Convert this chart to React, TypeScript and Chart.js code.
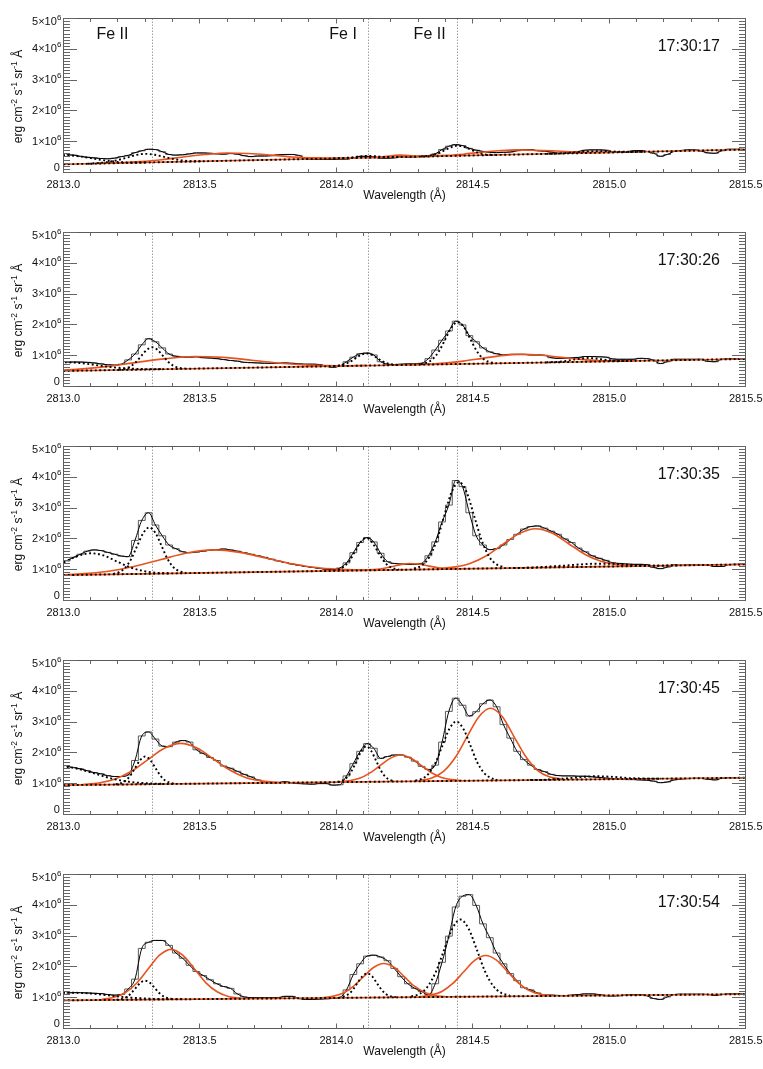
import React, { useEffect, useRef } from 'react';
import { Chart, registerables } from 'chart.js';

Chart.register(...registerables);

type Pt = [number, number];

// ---------- axes / labels ----------
const X_MIN = 2813.0;
const X_MAX = 2815.5;
const Y_MIN = 0;
const Y_MAX = 5; // units of 10^6 erg cm^-2 s^-1 sr^-1 A^-1
const X_TICK_VALUES = [2813.0, 2813.5, 2814.0, 2814.5, 2815.0, 2815.5];
const X_TICK_LABELS = ['2813.0', '2813.5', '2814.0', '2814.5', '2815.0', '2815.5'];
const Y_TICK_VALUES = [0, 1, 2, 3, 4, 5];
const Y_TICK_LABELS = ['0', '1×10', '2×10', '3×10', '4×10', '5×10'];
const Y_TICK_EXP = ['', '6', '6', '6', '6', '6'];
const X_TITLE = 'Wavelength (Å)';
const Y_TITLE_PARTS = ['erg cm', '-2', ' s', '-1', ' sr', '-1', ' Å'];
const TIMES = ['17:30:17', '17:30:26', '17:30:35', '17:30:45', '17:30:54'];
const LINE_WAVES = [2813.325, 2814.117, 2814.445];
const LINE_NAMES = ['Fe II', 'Fe I', 'Fe II'];
const LINE_NAME_X = [2813.18, 2814.025, 2814.342];

// ---------- observed spectra (bin centres) ----------
const WAVE = [
  2813.0125, 2813.0375, 2813.0625, 2813.0875, 2813.1125, 2813.1375, 2813.1625, 2813.1875, 2813.2125, 2813.2375,
  2813.2625, 2813.2875, 2813.3125, 2813.3375, 2813.3625, 2813.3875, 2813.4125, 2813.4375, 2813.4625, 2813.4875,
  2813.5125, 2813.5375, 2813.5625, 2813.5875, 2813.6125, 2813.6375, 2813.6625, 2813.6875, 2813.7125, 2813.7375,
  2813.7625, 2813.7875, 2813.8125, 2813.8375, 2813.8625, 2813.8875, 2813.9125, 2813.9375, 2813.9625, 2813.9875,
  2814.0125, 2814.0375, 2814.0625, 2814.0875, 2814.1125, 2814.1375, 2814.1625, 2814.1875, 2814.2125, 2814.2375,
  2814.2625, 2814.2875, 2814.3125, 2814.3375, 2814.3625, 2814.3875, 2814.4125, 2814.4375, 2814.4625, 2814.4875,
  2814.5125, 2814.5375, 2814.5625, 2814.5875, 2814.6125, 2814.6375, 2814.6625, 2814.6875, 2814.7125, 2814.7375,
  2814.7625, 2814.7875, 2814.8125, 2814.8375, 2814.8625, 2814.8875, 2814.9125, 2814.9375, 2814.9625, 2814.9875,
  2815.0125, 2815.0375, 2815.0625, 2815.0875, 2815.1125, 2815.1375, 2815.1625, 2815.1875, 2815.2125, 2815.2375,
  2815.2625, 2815.2875, 2815.3125, 2815.3375, 2815.3625, 2815.3875, 2815.4125, 2815.4375, 2815.4625, 2815.4875,
];

const HIST_1 = [
  0.57, 0.56, 0.52, 0.49, 0.47, 0.45, 0.44, 0.46, 0.51, 0.55,
  0.64, 0.70, 0.75, 0.74, 0.67, 0.58, 0.56, 0.57, 0.60, 0.63,
  0.63, 0.62, 0.60, 0.59, 0.61, 0.59, 0.54, 0.51, 0.53, 0.53,
  0.54, 0.57, 0.58, 0.58, 0.55, 0.44, 0.42, 0.42, 0.42, 0.42,
  0.43, 0.43, 0.47, 0.52, 0.52, 0.50, 0.46, 0.46, 0.47, 0.51,
  0.49, 0.50, 0.52, 0.54, 0.60, 0.74, 0.85, 0.90, 0.87, 0.78,
  0.72, 0.68, 0.65, 0.64, 0.65, 0.66, 0.70, 0.74, 0.74, 0.70,
  0.69, 0.66, 0.62, 0.62, 0.65, 0.68, 0.72, 0.73, 0.73, 0.72,
  0.65, 0.65, 0.65, 0.70, 0.71, 0.68, 0.62, 0.52, 0.58, 0.68,
  0.71, 0.73, 0.73, 0.69, 0.63, 0.62, 0.70, 0.75, 0.75, 0.75,
];
const HIST_2 = [
  0.79, 0.79, 0.79, 0.78, 0.76, 0.73, 0.70, 0.69, 0.72, 0.86,
  1.05, 1.35, 1.55, 1.45, 1.25, 1.05, 0.98, 0.95, 0.95, 0.96,
  0.93, 0.92, 0.90, 0.87, 0.84, 0.82, 0.78, 0.77, 0.76, 0.75,
  0.75, 0.75, 0.76, 0.75, 0.73, 0.72, 0.72, 0.71, 0.65, 0.62,
  0.66, 0.80, 0.95, 1.06, 1.08, 1.02, 0.80, 0.72, 0.70, 0.72,
  0.73, 0.73, 0.75, 0.90, 1.18, 1.50, 1.80, 2.12, 2.00, 1.65,
  1.45, 1.25, 1.12, 1.06, 1.02, 1.04, 1.04, 1.04, 1.02, 1.02,
  1.01, 0.93, 0.91, 0.91, 0.93, 0.94, 0.97, 0.97, 0.96, 0.95,
  0.89, 0.88, 0.88, 0.88, 0.91, 0.90, 0.85, 0.74, 0.80, 0.88,
  0.88, 0.88, 0.88, 0.88, 0.81, 0.80, 0.88, 0.89, 0.89, 0.89,
];
const HIST_3 = [
  1.28, 1.40, 1.50, 1.60, 1.64, 1.62, 1.56, 1.50, 1.44, 1.42,
  1.95, 2.60, 2.85, 2.45, 2.10, 1.80, 1.68, 1.58, 1.55, 1.57,
  1.60, 1.63, 1.65, 1.67, 1.64, 1.60, 1.55, 1.50, 1.45, 1.40,
  1.34, 1.28, 1.23, 1.18, 1.14, 1.10, 1.07, 1.04, 1.01, 1.00,
  1.05, 1.22, 1.55, 1.88, 2.04, 1.90, 1.53, 1.26, 1.20, 1.18,
  1.17, 1.17, 1.20, 1.45, 1.90, 2.55, 3.10, 3.90, 3.70, 2.85,
  2.10, 1.80, 1.65, 1.68, 1.80, 1.98, 2.15, 2.32, 2.40, 2.42,
  2.35, 2.25, 2.15, 2.00, 1.88, 1.70, 1.58, 1.45, 1.37, 1.30,
  1.22, 1.20, 1.18, 1.17, 1.17, 1.16, 1.07, 1.03, 1.08, 1.15,
  1.14, 1.15, 1.15, 1.15, 1.14, 1.10, 1.10, 1.16, 1.17, 1.17,
];
const HIST_4 = [
  1.56, 1.52, 1.48, 1.42, 1.36, 1.32, 1.26, 1.23, 1.23, 1.28,
  1.75, 2.55, 2.68, 2.45, 2.22, 2.20, 2.35, 2.40, 2.35, 2.10,
  1.98, 1.85, 1.75, 1.57, 1.50, 1.40, 1.30, 1.22, 1.12, 1.05,
  1.02, 1.03, 1.06, 1.02, 1.00, 0.99, 0.98, 1.00, 1.00, 0.95,
  0.96, 1.25, 1.65, 2.05, 2.30, 2.15, 1.82, 1.88, 1.93, 1.93,
  1.86, 1.73, 1.56, 1.46, 1.60, 2.35, 3.35, 3.78, 3.55, 3.20,
  3.34, 3.60, 3.72, 3.50, 2.92, 2.48, 2.05, 1.78, 1.60, 1.46,
  1.39, 1.30, 1.26, 1.25, 1.25, 1.24, 1.24, 1.22, 1.20, 1.18,
  1.16, 1.14, 1.13, 1.13, 1.12, 1.11, 1.08, 1.03, 1.05, 1.12,
  1.15, 1.16, 1.17, 1.17, 1.14, 1.12, 1.17, 1.19, 1.19, 1.19,
];
const HIST_5 = [
  1.15, 1.16, 1.16, 1.15, 1.14, 1.13, 1.10, 1.08, 1.10, 1.28,
  1.60, 2.60, 2.80, 2.86, 2.86, 2.70, 2.45, 2.28, 2.05, 1.85,
  1.72, 1.58, 1.45, 1.36, 1.30, 1.12, 1.02, 1.00, 1.00, 1.00,
  1.00, 1.00, 1.04, 1.04, 0.97, 0.94, 0.94, 0.95, 0.96, 0.97,
  1.00, 1.25, 1.75, 2.10, 2.35, 2.38, 2.32, 2.20, 1.95, 1.68,
  1.45, 1.30, 1.20, 1.08, 1.45, 2.15, 3.00, 3.95, 4.30, 4.35,
  4.00, 3.40, 2.95, 2.45, 2.10, 1.78, 1.55, 1.32, 1.25, 1.15,
  1.08, 1.08, 1.07, 1.06, 1.08, 1.10, 1.12, 1.12, 1.10, 1.06,
  1.05, 1.06, 1.08, 1.10, 1.10, 1.06, 0.97, 0.94, 1.02, 1.10,
  1.11, 1.11, 1.11, 1.11, 1.10, 1.07, 1.10, 1.12, 1.12, 1.12,
];

// ---------- continua ----------
const CONT_1: Pt[] = [[2813.0, 0.26], [2815.5, 0.74]];
const CONT_2: Pt[] = [[2813.0, 0.50], [2815.5, 0.89]];
const CONT_3: Pt[] = [[2813.0, 0.82], [2815.5, 1.17]];
const CONT_4: Pt[] = [[2813.0, 0.95], [2815.5, 1.19]];
const CONT_5: Pt[] = [[2813.0, 0.91], [2815.5, 1.11]];

// ---------- panel 1 components ----------
const P1_G0: Pt[] = [[2812.90, 0.42], [2812.95, 0.52], [2813.00, 0.56], [2813.05, 0.53], [2813.10, 0.46], [2813.15, 0.39], [2813.20, 0.34], [2813.25, 0.32], [2813.30, 0.32]];
const P1_G1: Pt[] = [[2813.09, 0.28], [2813.125, 0.30], [2813.16, 0.33], [2813.195, 0.39], [2813.23, 0.47], [2813.265, 0.56], [2813.30, 0.60], [2813.335, 0.57], [2813.37, 0.50], [2813.405, 0.43], [2813.44, 0.38], [2813.475, 0.36], [2813.51, 0.36]];
const P1_O1: Pt[] = [[2813.12, 0.29], [2813.20, 0.31], [2813.28, 0.35], [2813.36, 0.41], [2813.44, 0.50], [2813.52, 0.58], [2813.60, 0.63], [2813.68, 0.61], [2813.76, 0.56], [2813.84, 0.50], [2813.92, 0.47], [2814.00, 0.46], [2814.08, 0.47]];
const P1_G2: Pt[] = [[2813.99, 0.45], [2814.01, 0.46], [2814.03, 0.47], [2814.05, 0.48], [2814.07, 0.50], [2814.09, 0.52], [2814.11, 0.53], [2814.13, 0.53], [2814.15, 0.52], [2814.17, 0.50], [2814.19, 0.50], [2814.21, 0.50], [2814.23, 0.50]];
const P1_O2: Pt[] = [[2814.115, 0.47], [2814.135, 0.48], [2814.155, 0.49], [2814.175, 0.51], [2814.195, 0.53], [2814.215, 0.55], [2814.235, 0.56], [2814.255, 0.55], [2814.275, 0.54], [2814.295, 0.53], [2814.315, 0.52], [2814.335, 0.52], [2814.355, 0.52]];
const P1_G3: Pt[] = [[2814.31, 0.52], [2814.3325, 0.53], [2814.355, 0.57], [2814.3775, 0.63], [2814.40, 0.73], [2814.4225, 0.82], [2814.445, 0.87], [2814.4675, 0.83], [2814.49, 0.75], [2814.5125, 0.66], [2814.535, 0.60], [2814.5575, 0.57], [2814.58, 0.57]];
const P1_O3: Pt[] = [[2814.27, 0.51], [2814.335, 0.52], [2814.40, 0.55], [2814.465, 0.59], [2814.53, 0.65], [2814.595, 0.70], [2814.66, 0.73], [2814.725, 0.72], [2814.79, 0.70], [2814.855, 0.67], [2814.92, 0.65], [2814.985, 0.65], [2815.05, 0.66]];
const P1_G4: Pt[] = [[2814.77, 0.60], [2814.80, 0.61], [2814.83, 0.62], [2814.86, 0.64], [2814.89, 0.66], [2814.92, 0.68], [2814.95, 0.69], [2814.98, 0.69], [2815.01, 0.68], [2815.04, 0.67], [2815.07, 0.67], [2815.10, 0.67], [2815.13, 0.67]];

// ---------- panel 2 components ----------
const P2_G0: Pt[] = [[2812.88, 0.65], [2812.94, 0.74], [2813.00, 0.78], [2813.06, 0.76], [2813.12, 0.69], [2813.18, 0.62], [2813.24, 0.58], [2813.30, 0.56], [2813.36, 0.56]];
const P2_G1: Pt[] = [[2813.205, 0.54], [2813.225, 0.57], [2813.245, 0.64], [2813.265, 0.78], [2813.285, 0.98], [2813.305, 1.18], [2813.325, 1.27], [2813.345, 1.19], [2813.365, 0.99], [2813.385, 0.79], [2813.405, 0.66], [2813.425, 0.60], [2813.445, 0.58]];
const P2_O1: Pt[] = [[2812.85, 0.48], [2812.955, 0.51], [2813.06, 0.56], [2813.165, 0.65], [2813.27, 0.78], [2813.375, 0.90], [2813.48, 0.97], [2813.585, 0.94], [2813.69, 0.85], [2813.795, 0.75], [2813.90, 0.69], [2814.005, 0.67], [2814.11, 0.68]];
const P2_G2: Pt[] = [[2813.99, 0.66], [2814.01, 0.68], [2814.03, 0.72], [2814.05, 0.79], [2814.07, 0.91], [2814.09, 1.02], [2814.11, 1.07], [2814.13, 1.03], [2814.15, 0.92], [2814.17, 0.81], [2814.19, 0.74], [2814.21, 0.71], [2814.23, 0.70]];
const P2_G3: Pt[] = [[2814.31, 0.72], [2814.3325, 0.77], [2814.355, 0.90], [2814.3775, 1.16], [2814.40, 1.54], [2814.4225, 1.92], [2814.445, 2.09], [2814.4675, 1.93], [2814.49, 1.56], [2814.5125, 1.18], [2814.535, 0.92], [2814.5575, 0.80], [2814.58, 0.76]];
const P2_O3: Pt[] = [[2814.255, 0.70], [2814.325, 0.72], [2814.395, 0.76], [2814.465, 0.82], [2814.535, 0.91], [2814.605, 1.00], [2814.675, 1.04], [2814.745, 1.02], [2814.815, 0.95], [2814.885, 0.89], [2814.955, 0.84], [2815.025, 0.83], [2815.095, 0.83]];
const P2_G4: Pt[] = [[2814.77, 0.78], [2814.795, 0.79], [2814.82, 0.80], [2814.845, 0.83], [2814.87, 0.87], [2814.895, 0.90], [2814.92, 0.92], [2814.945, 0.91], [2814.97, 0.88], [2814.995, 0.85], [2815.02, 0.83], [2815.045, 0.82], [2815.07, 0.82]];

// ---------- panel 3 components ----------
const P3_G1: Pt[] = [[2812.815, 0.80], [2812.8625, 0.83], [2812.91, 0.90], [2812.9575, 1.04], [2813.005, 1.25], [2813.0525, 1.44], [2813.10, 1.53], [2813.1475, 1.46], [2813.195, 1.27], [2813.2425, 1.08], [2813.29, 0.96], [2813.3375, 0.90], [2813.385, 0.88]];
const P3_G2: Pt[] = [[2813.183, 0.86], [2813.205, 0.92], [2813.227, 1.06], [2813.249, 1.35], [2813.271, 1.78], [2813.293, 2.19], [2813.315, 2.37], [2813.337, 2.20], [2813.359, 1.79], [2813.381, 1.36], [2813.403, 1.08], [2813.425, 0.95], [2813.447, 0.90]];
const P3_O1: Pt[] = [[2812.965, 0.82], [2813.0625, 0.86], [2813.16, 0.94], [2813.2575, 1.10], [2813.355, 1.32], [2813.4525, 1.54], [2813.55, 1.64], [2813.6475, 1.56], [2813.745, 1.37], [2813.8425, 1.18], [2813.94, 1.05], [2814.0375, 1.00], [2814.135, 0.99]];
const P3_G3: Pt[] = [[2813.99, 0.97], [2814.01, 1.01], [2814.03, 1.11], [2814.05, 1.31], [2814.07, 1.61], [2814.09, 1.90], [2814.11, 2.03], [2814.13, 1.90], [2814.15, 1.62], [2814.17, 1.33], [2814.19, 1.13], [2814.21, 1.04], [2814.23, 1.00]];
const P3_O2: Pt[] = [[2814.09, 0.98], [2814.12, 0.99], [2814.15, 1.01], [2814.18, 1.05], [2814.21, 1.11], [2814.24, 1.17], [2814.27, 1.20], [2814.30, 1.18], [2814.33, 1.13], [2814.36, 1.08], [2814.39, 1.04], [2814.42, 1.03], [2814.45, 1.03]];
const P3_G4: Pt[] = [[2814.285, 1.03], [2814.3125, 1.13], [2814.34, 1.39], [2814.3675, 1.93], [2814.395, 2.73], [2814.4225, 3.52], [2814.45, 3.85], [2814.4775, 3.52], [2814.505, 2.75], [2814.5325, 1.96], [2814.56, 1.42], [2814.5875, 1.17], [2814.615, 1.08]];
const P3_O3: Pt[] = [[2814.37, 1.03], [2814.43, 1.08], [2814.49, 1.20], [2814.55, 1.45], [2814.61, 1.82], [2814.67, 2.17], [2814.73, 2.33], [2814.79, 2.19], [2814.85, 1.85], [2814.91, 1.50], [2814.97, 1.27], [2815.03, 1.16], [2815.09, 1.13]];
const P3_G5: Pt[] = [[2814.65, 1.05], [2814.70, 1.06], [2814.75, 1.08], [2814.80, 1.11], [2814.85, 1.14], [2814.90, 1.17], [2814.95, 1.19], [2815.00, 1.19], [2815.05, 1.17], [2815.10, 1.15], [2815.15, 1.13], [2815.20, 1.13], [2815.25, 1.14]];

// ---------- panel 4 components ----------
const P4_G0: Pt[] = [[2812.85, 1.31], [2812.915, 1.49], [2812.98, 1.57], [2813.045, 1.50], [2813.11, 1.34], [2813.175, 1.17], [2813.24, 1.06], [2813.305, 1.01], [2813.37, 0.99]];
const P4_G2: Pt[] = [[2813.192, 0.98], [2813.21, 1.01], [2813.228, 1.09], [2813.246, 1.27], [2813.264, 1.52], [2813.282, 1.77], [2813.30, 1.88], [2813.318, 1.77], [2813.336, 1.53], [2813.354, 1.28], [2813.372, 1.11], [2813.39, 1.03], [2813.408, 1.00]];
const P4_O1: Pt[] = [[2813.07, 0.97], [2813.13, 1.02], [2813.19, 1.15], [2813.25, 1.40], [2813.31, 1.78], [2813.37, 2.15], [2813.43, 2.31], [2813.49, 2.16], [2813.55, 1.80], [2813.61, 1.44], [2813.67, 1.19], [2813.73, 1.08], [2813.79, 1.04]];
const P4_G3: Pt[] = [[2814.005, 1.06], [2814.0225, 1.10], [2814.04, 1.21], [2814.0575, 1.43], [2814.075, 1.75], [2814.0925, 2.07], [2814.11, 2.21], [2814.1275, 2.07], [2814.145, 1.76], [2814.1625, 1.44], [2814.18, 1.22], [2814.1975, 1.12], [2814.215, 1.08]];
const P4_O2: Pt[] = [[2814.01, 1.06], [2814.0475, 1.09], [2814.085, 1.17], [2814.1225, 1.34], [2814.16, 1.58], [2814.1975, 1.82], [2814.235, 1.93], [2814.2725, 1.83], [2814.31, 1.60], [2814.3475, 1.36], [2814.385, 1.20], [2814.4225, 1.13], [2814.46, 1.10]];
const P4_G4: Pt[] = [[2814.29, 1.10], [2814.315, 1.16], [2814.34, 1.34], [2814.365, 1.71], [2814.39, 2.26], [2814.415, 2.79], [2814.44, 3.02], [2814.465, 2.79], [2814.49, 2.27], [2814.515, 1.72], [2814.54, 1.36], [2814.565, 1.19], [2814.59, 1.12]];
const P4_O3: Pt[] = [[2814.307, 1.10], [2814.35, 1.18], [2814.393, 1.40], [2814.436, 1.85], [2814.479, 2.52], [2814.522, 3.17], [2814.565, 3.45], [2814.608, 3.18], [2814.651, 2.53], [2814.694, 1.88], [2814.737, 1.43], [2814.78, 1.22], [2814.823, 1.15]];
const P4_G5: Pt[] = [[2814.71, 1.12], [2814.75, 1.12], [2814.79, 1.14], [2814.83, 1.16], [2814.87, 1.19], [2814.91, 1.22], [2814.95, 1.24], [2814.99, 1.23], [2815.03, 1.21], [2815.07, 1.18], [2815.11, 1.17], [2815.15, 1.16], [2815.19, 1.16]];

// ---------- panel 5 components ----------
const P5_G0: Pt[] = [[2812.88, 1.05], [2812.95, 1.13], [2813.02, 1.16], [2813.09, 1.14], [2813.16, 1.08], [2813.23, 1.01], [2813.30, 0.97], [2813.37, 0.95], [2813.44, 0.95]];
const P5_G1: Pt[] = [[2813.195, 0.93], [2813.2125, 0.95], [2813.23, 1.01], [2813.2475, 1.13], [2813.265, 1.31], [2813.2825, 1.48], [2813.30, 1.55], [2813.3175, 1.48], [2813.335, 1.31], [2813.3525, 1.14], [2813.37, 1.02], [2813.3875, 0.97], [2813.405, 0.95]];
const P5_O1: Pt[] = [[2813.14, 0.94], [2813.1825, 1.00], [2813.225, 1.15], [2813.2675, 1.46], [2813.31, 1.92], [2813.3525, 2.38], [2813.395, 2.57], [2813.4375, 2.38], [2813.48, 1.94], [2813.5225, 1.48], [2813.565, 1.18], [2813.6075, 1.03], [2813.65, 0.98]];
const P5_G2: Pt[] = [[2814.008, 1.00], [2814.0255, 1.03], [2814.043, 1.10], [2814.0605, 1.25], [2814.078, 1.48], [2814.0955, 1.69], [2814.113, 1.79], [2814.1305, 1.70], [2814.148, 1.48], [2814.1655, 1.26], [2814.183, 1.11], [2814.2005, 1.04], [2814.218, 1.02]];
const P5_O2: Pt[] = [[2813.949, 1.00], [2813.9865, 1.04], [2814.024, 1.14], [2814.0615, 1.36], [2814.099, 1.67], [2814.1365, 1.98], [2814.174, 2.11], [2814.2115, 1.99], [2814.249, 1.68], [2814.2865, 1.37], [2814.324, 1.17], [2814.3615, 1.07], [2814.399, 1.03]];
const P5_G3: Pt[] = [[2814.275, 1.04], [2814.305, 1.12], [2814.335, 1.36], [2814.365, 1.84], [2814.395, 2.55], [2814.425, 3.24], [2814.455, 3.54], [2814.485, 3.24], [2814.515, 2.56], [2814.545, 1.85], [2814.575, 1.38], [2814.605, 1.15], [2814.635, 1.07]];
const P5_O3: Pt[] = [[2814.307, 1.03], [2814.347, 1.08], [2814.387, 1.20], [2814.427, 1.46], [2814.467, 1.84], [2814.507, 2.21], [2814.547, 2.37], [2814.587, 2.22], [2814.627, 1.85], [2814.667, 1.48], [2814.707, 1.23], [2814.747, 1.11], [2814.787, 1.07]];

const PANELS = [
  { hist: HIST_1, cont: CONT_1, dotted: [P1_G0, P1_G1, P1_G2, P1_G3, P1_G4], orange: [P1_O1, P1_O2, P1_O3] },
  { hist: HIST_2, cont: CONT_2, dotted: [P2_G0, P2_G1, P2_G2, P2_G3, P2_G4], orange: [P2_O1, P2_O3] },
  { hist: HIST_3, cont: CONT_3, dotted: [P3_G1, P3_G2, P3_G3, P3_G4, P3_G5], orange: [P3_O1, P3_O2, P3_O3] },
  { hist: HIST_4, cont: CONT_4, dotted: [P4_G0, P4_G2, P4_G3, P4_G4, P4_G5], orange: [P4_O1, P4_O2, P4_O3] },
  { hist: HIST_5, cont: CONT_5, dotted: [P5_G0, P5_G1, P5_G2, P5_G3], orange: [P5_O1, P5_O2, P5_O3] },
];

const FONT = '"Liberation Sans", Arial, Helvetica, sans-serif';
const ORANGE = '#e8531e';
const PANEL_H = 214;
const W = 763;

const crisp = (v: number) => Math.floor(v) + 0.5;

function makeDeco(idx: number) {
  return {
    id: 'deco' + idx,
    beforeDatasetsDraw(chart: any) {
      const { ctx, chartArea: a } = chart;
      const xs = chart.scales.x;
      ctx.save();
      ctx.strokeStyle = '#707070';
      ctx.lineWidth = 1;
      ctx.setLineDash([1, 2]);
      for (const w of LINE_WAVES) {
        const px = crisp(xs.getPixelForValue(w));
        ctx.beginPath();
        ctx.moveTo(px, a.top);
        ctx.lineTo(px, a.bottom);
        ctx.stroke();
      }
      ctx.restore();
    },
    afterDatasetsDraw(chart: any) {
      const { ctx, chartArea: a } = chart;
      const xs = chart.scales.x;
      const ys = chart.scales.y;
      ctx.save();
      // frame
      ctx.strokeStyle = '#5a5a5a';
      ctx.lineWidth = 1;
      const L = crisp(a.left), R = crisp(a.right), T = crisp(a.top), B = crisp(a.bottom);
      ctx.strokeRect(L, T, R - L, B - T);
      // x ticks (major every 0.5, minor every 0.1)
      ctx.strokeStyle = '#666';
      for (let i = 0; i <= 25; i++) {
        const px = crisp(xs.getPixelForValue(X_MIN + i * 0.1));
        const len = i % 5 === 0 ? 5 : 3.5;
        ctx.beginPath();
        ctx.moveTo(px, B); ctx.lineTo(px, B - len);
        ctx.moveTo(px, T); ctx.lineTo(px, T + len);
        ctx.stroke();
      }
      // y ticks (major every 1, minor every 0.1)
      for (let i = 0; i <= 50; i++) {
        const py = crisp(ys.getPixelForValue(i * 0.1));
        const len = i % 10 === 0 ? 13.5 : 6.5;
        ctx.beginPath();
        ctx.moveTo(L, py); ctx.lineTo(L + len, py);
        ctx.moveTo(R, py); ctx.lineTo(R - len, py);
        ctx.stroke();
      }
      ctx.fillStyle = '#111';
      ctx.textBaseline = 'middle';
      // x tick labels
      ctx.font = `11px ${FONT}`;
      ctx.textAlign = 'center';
      X_TICK_VALUES.forEach((v, i) => {
        ctx.fillText(X_TICK_LABELS[i], xs.getPixelForValue(v), a.bottom + 12.3);
      });
      // x title
      ctx.font = `12px ${FONT}`;
      ctx.fillText(X_TITLE, (a.left + a.right) / 2, a.bottom + 23.5);
      // y tick labels
      Y_TICK_VALUES.forEach((v, i) => {
        const py = ys.getPixelForValue(v);
        if (!Y_TICK_EXP[i]) {
          ctx.font = `11px ${FONT}`;
          ctx.textAlign = 'right';
          ctx.fillText(Y_TICK_LABELS[i], a.left - 3.5, py - 4);
        } else {
          const cy = v === Y_MAX ? py + 3.5 : py;
          ctx.font = `11px ${FONT}`;
          ctx.textAlign = 'right';
          ctx.fillText(Y_TICK_LABELS[i], a.left - 6.5, cy);
          ctx.font = `8px ${FONT}`;
          ctx.textAlign = 'left';
          ctx.fillText(Y_TICK_EXP[i], a.left - 6.3, cy - 4.2);
        }
      });
      // y title (rotated, with superscripts)
      ctx.save();
      ctx.translate(19, (a.top + a.bottom) / 2 + 1);
      ctx.rotate(-Math.PI / 2);
      ctx.textAlign = 'left';
      const parts = Y_TITLE_PARTS.map((t, k) => ({ t, sup: k % 2 === 1 }));
      let total = 0;
      for (const p of parts) {
        ctx.font = p.sup ? `8.5px ${FONT}` : `12px ${FONT}`;
        total += ctx.measureText(p.t).width;
      }
      let xx = -total / 2;
      for (const p of parts) {
        ctx.font = p.sup ? `8.5px ${FONT}` : `12px ${FONT}`;
        ctx.fillText(p.t, xx, p.sup ? -4.5 : 0);
        xx += ctx.measureText(p.t).width;
      }
      ctx.restore();
      // time stamp
      ctx.font = `16px ${FONT}`;
      ctx.textAlign = 'right';
      ctx.fillText(TIMES[idx], 720, a.top + 27.5);
      // line identifications (top panel only)
      if (idx === 0) {
        ctx.textAlign = 'center';
        LINE_NAMES.forEach((n, k) => {
          ctx.fillText(n, xs.getPixelForValue(LINE_NAME_X[k]), a.top + 15.5);
        });
      }
      ctx.restore();
    },
  };
}

function Panel({ idx }: { idx: number }) {
  const ref = useRef<HTMLCanvasElement | null>(null);
  useEffect(() => {
    const p = PANELS[idx];
    const pts = (arr: Pt[]) => arr.map(([x, y]) => ({ x, y }));
    const dotStyle = {
      borderColor: '#000',
      borderWidth: 1.9,
      borderDash: [1.9, 2.6],
      pointRadius: 0,
      fill: false,
      cubicInterpolationMode: 'monotone' as const,
    };
    const orangeStyle = {
      borderColor: ORANGE,
      borderWidth: 1.6,
      pointRadius: 0,
      fill: false,
      cubicInterpolationMode: 'monotone' as const,
    };
    const histPts = WAVE.map((x, i) => ({ x, y: p.hist[i] }));
    const datasets: any[] = [
      { label: 'continuum (dotted)', data: pts(p.cont), ...dotStyle },
      ...p.dotted.map((d, k) => ({ label: 'component ' + k, data: pts(d), ...dotStyle })),
      ...p.orange.map((d, k) => ({ label: 'red component ' + k, data: pts(d), ...orangeStyle })),
      { label: 'continuum', data: pts(p.cont), ...orangeStyle },
      {
        label: 'fit',
        data: histPts,
        borderColor: '#000',
        borderWidth: 1,
        pointRadius: 0,
        fill: false,
        cubicInterpolationMode: 'monotone',
      },
      {
        label: 'observed',
        data: histPts,
        borderColor: '#5c5c5c',
        borderWidth: 1,
        pointRadius: 0,
        fill: false,
        stepped: 'middle',
      },
    ];
    const chart = new Chart(ref.current as HTMLCanvasElement, {
      type: 'line',
      data: { datasets },
      options: {
        animation: false,
        responsive: false,
        maintainAspectRatio: false,
        devicePixelRatio: 1,
        events: [],
        layout: { padding: { left: 63.3, right: W - 745.7, top: 18.7, bottom: PANEL_H - 172.3 } },
        scales: {
          x: { type: 'linear', min: X_MIN, max: X_MAX, display: false },
          y: { type: 'linear', min: Y_MIN, max: Y_MAX, display: false },
        },
        plugins: { legend: { display: false }, tooltip: { enabled: false }, title: { display: false } },
      },
      plugins: [makeDeco(idx)],
    } as any);
    return () => chart.destroy();
  }, [idx]);
  return (
    <canvas
      ref={ref}
      width={W}
      height={PANEL_H}
      style={{ position: 'absolute', left: 0, top: idx * PANEL_H, width: W, height: PANEL_H, display: 'block' }}
    />
  );
}

export default function App() {
  return (
    <div style={{ position: 'absolute', left: 0, top: 0, width: W, height: 1069, overflow: 'hidden', background: '#fff' }}>
      {PANELS.map((_, i) => (
        <Panel key={i} idx={i} />
      ))}
    </div>
  );
}
